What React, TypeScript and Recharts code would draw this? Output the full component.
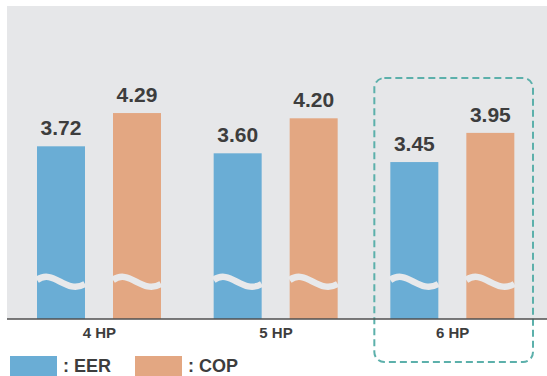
import React from 'react';
import { BarChart, Bar, XAxis, YAxis, CartesianGrid, LabelList, Legend, ReferenceArea } from 'recharts';

const categories = ['4 HP', '5 HP', '6 HP'];
const eerValues = [3.72, 3.6, 3.45];
const copValues = [4.29, 4.2, 3.95];
const seriesNames = [': EER', ': COP'];
const highlightCategory = '6 HP';

const data = categories.map((c, i) => ({ name: c, eer: eerValues[i], cop: copValues[i] }));

const BLUE = '#6aadd5';
const ORANGE = '#e3a782';
const BG = '#e6e7e9';
const TEXT = '#3d3d3d';
const TEAL = '#5cb0ab';

const WaveBar = (props: any) => {
  const { x, y, width, height, fill } = props;
  if (width == null || height == null) return null;
  const b = y + height;
  const w = width;
  const d = `M ${x} ${b - 39} C ${x + 0.35 * w} ${b - 51} ${x + 0.6 * w} ${b - 24} ${x + w} ${b - 35}`;
  return (
    <g>
      <rect x={x} y={y} width={w} height={height} fill={fill} />
      <path d={d} stroke="#e8e9eb" strokeWidth={6.5} fill="none" />
    </g>
  );
};

const HighlightBox = (props: any) => {
  const { x, y, width, height } = props;
  return (
    <rect
      x={x + 10}
      y={y + 72}
      width={width - 18}
      height={height - 72 + 43}
      rx={10}
      ry={10}
      fill="none"
      stroke={TEAL}
      strokeWidth={2}
      strokeDasharray="7 4"
    />
  );
};

const LegendContent = () => (
  <div style={{ display: 'flex', alignItems: 'center', height: 20, fontFamily: 'Liberation Sans, Arial, sans-serif' }}>
    <div style={{ width: 47, height: 20, background: BLUE, marginLeft: 10 }} />
    <span style={{ marginLeft: 6, fontSize: 18, fontWeight: 'bold', color: TEXT, lineHeight: '20px' }}>{seriesNames[0]}</span>
    <div style={{ width: 47, height: 20, background: ORANGE, marginLeft: 24 }} />
    <span style={{ marginLeft: 6, fontSize: 18, fontWeight: 'bold', color: TEXT, lineHeight: '20px' }}>{seriesNames[1]}</span>
  </div>
);

const fmt = (v: any) => Number(v).toFixed(2);

export default function App() {
  return (
    <div style={{ position: 'absolute', left: 0, top: 0, width: 547, height: 376, background: '#fff', fontFamily: 'Liberation Sans, Arial, sans-serif' }}>
      <BarChart
        width={547}
        height={376}
        data={data}
        margin={{ top: 6, right: 0, left: 7, bottom: 7 }}
        barSize={48}
        barGap={28}
      >
        <CartesianGrid horizontal={false} vertical={false} fill={BG} />
        <XAxis
          dataKey="name"
          height={30}
          padding={{ left: 4, right: 6 }}
          tickLine={false}
          tickSize={0}
          tickMargin={8}
          axisLine={{ stroke: '#4f4f4f', strokeWidth: 1.5 }}
          tick={{ fill: TEXT, fontSize: 15, fontWeight: 'bold' }}
        />
        <YAxis
          type="number"
          domain={[0.76, 6.125]}
          allowDataOverflow
          width={0}
          tick={false}
          tickLine={false}
          axisLine={{ stroke: '#9c9c9c', strokeWidth: 2 }}
        />
        <Bar dataKey="eer" fill={BLUE} isAnimationActive={false} shape={WaveBar}>
          <LabelList dataKey="eer" position="top" offset={11} formatter={fmt} fill={TEXT} fontSize={21} fontWeight="bold" />
        </Bar>
        <Bar dataKey="cop" fill={ORANGE} isAnimationActive={false} shape={WaveBar}>
          <LabelList dataKey="cop" position="top" offset={11} formatter={fmt} fill={TEXT} fontSize={21} fontWeight="bold" />
        </Bar>
        <ReferenceArea x1={highlightCategory} x2={highlightCategory} ifOverflow="visible" shape={HighlightBox} />
        <Legend verticalAlign="bottom" content={LegendContent} wrapperStyle={{ left: 0, bottom: 0, width: 547 }} />
      </BarChart>
    </div>
  );
}
